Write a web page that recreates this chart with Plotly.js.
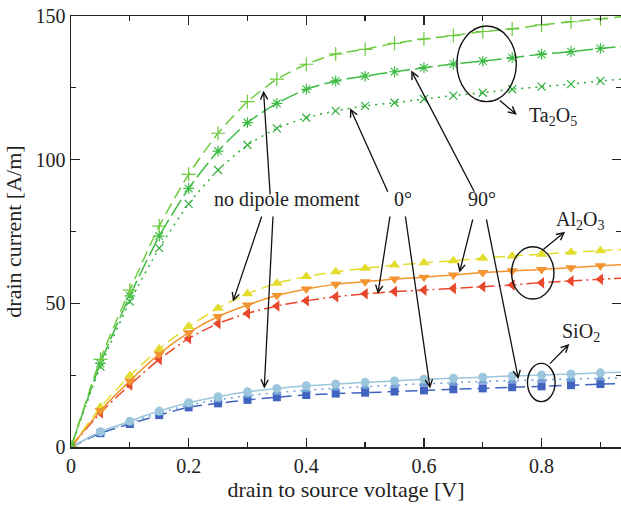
<!DOCTYPE html>
<html>
<head>
<meta charset="utf-8">
<script src="https://cdn.plot.ly/plotly-3.0.1.min.js"></script>
<style>html,body{margin:0;padding:0;background:#fff;}</style>
</head>
<body>
<div id="chart" style="width:621px;height:505px;"></div>
<script>
// drain-to-source voltage [V]
const vds = [0, 0.05, 0.1, 0.15, 0.2, 0.25, 0.3, 0.35, 0.4, 0.45, 0.5, 0.55, 0.6, 0.65, 0.7, 0.75, 0.8, 0.85, 0.9, 0.95];

// Ta2O5 drain current [A/m]
const ta2o5_noDipole = [0, 30.5, 54.6, 76.9, 94.9, 109.2, 120.2, 128.0, 133.2, 136.8, 138.4, 140.5, 142.0, 143.2, 144.6, 145.5, 146.9, 148.0, 149.0, 150.0];
const ta2o5_90deg    = [0, 29.1, 52.6, 73.4, 90.0, 103.0, 112.9, 119.6, 124.5, 127.4, 129.1, 130.6, 132.0, 133.3, 134.3, 135.5, 136.7, 137.6, 138.7, 139.6];
const ta2o5_0deg     = [0, 28.0, 50.6, 69.2, 84.6, 96.4, 105.1, 110.9, 114.6, 117.0, 118.7, 119.8, 121.1, 122.3, 123.3, 124.5, 125.4, 126.3, 127.4, 128.2];

// Al2O3 drain current [A/m]
const al2o3_noDipole = [0, 13.8, 24.8, 34.1, 41.9, 48.3, 53.3, 57.0, 59.3, 61.0, 62.2, 63.3, 64.1, 64.8, 65.7, 66.5, 67.1, 67.8, 68.3, 68.9];
const al2o3_90deg    = [0, 12.6, 23.0, 32.4, 39.8, 45.4, 49.4, 52.7, 55.0, 56.6, 57.5, 58.5, 59.1, 59.9, 60.7, 61.3, 61.8, 62.4, 63.1, 63.6];
const al2o3_0deg     = [0, 11.9, 21.6, 30.5, 37.8, 43.0, 46.5, 49.1, 50.9, 52.3, 53.3, 54.1, 54.6, 55.2, 55.8, 56.4, 57.2, 57.8, 58.4, 58.9];

// SiO2 drain current [A/m]
const sio2_noDipole = [0, 5.3, 9.0, 12.5, 15.4, 17.5, 19.2, 20.4, 21.3, 21.9, 22.5, 23.0, 23.6, 23.9, 24.3, 24.7, 25.1, 25.4, 25.8, 26.1];
const sio2_mid      = [0, 5.0, 8.5, 11.8, 14.6, 16.4, 17.9, 18.9, 19.8, 20.4, 21.0, 21.5, 22.0, 22.4, 22.8, 23.1, 23.4, 23.7, 23.9, 24.2];
const sio2_low      = [0, 4.8, 8.0, 11.1, 13.8, 15.2, 16.4, 17.3, 18.1, 18.6, 18.9, 19.3, 19.7, 20.1, 20.4, 20.8, 21.1, 21.5, 21.9, 22.2];

const tickVals = [0, 0.2, 0.4, 0.6, 0.8];
const yTickVals = [0, 50, 100, 150];

const DASH = '12px,6px', LONGDASH = '18px,5px', DASHDOT = '12px,4px,2px,4px', DOT = '2px,5px';

function tr(y, color, dash, symbol, size, thin) {
  const marker = {symbol: symbol, size: size, color: color};
  if (thin) marker.line = {color: color, width: 1.2};
  else marker.line = {width: 0};
  return {
    x: vds, y: y, type: 'scatter', mode: 'lines+markers',
    line: {color: color, width: 1.5, dash: dash, shape: 'spline', smoothing: 0.6},
    marker: marker, showlegend: false, cliponaxis: true
  };
}

const data = [
  tr(sio2_low, '#3f63bf', DASH, 'square', 8, false),
  tr(sio2_mid, '#6e9fd6', DOT, 'triangle-up', 9, false),
  tr(sio2_noDipole, '#9cc6dc', 'solid', 'circle', 9, false),
  tr(al2o3_0deg, '#e8472b', DASHDOT, 'triangle-left', 10, false),
  tr(al2o3_noDipole, '#e3dc2c', DASH, 'triangle-up', 10, false),
  tr(al2o3_90deg, '#f29430', 'solid', 'triangle-down', 10, false),
  tr(ta2o5_0deg, '#2fae3a', DOT, 'x-thin', 8, true),
  tr(ta2o5_90deg, '#3dbb45', LONGDASH, 'asterisk', 9, true),
  tr(ta2o5_noDipole, '#6cca3c', DASH, 'cross-thin', 10, true)
];

const font = {family: '"Liberation Serif", "Times New Roman", serif', size: 20, color: '#222'};

function arrow(xTip, yTip, xTail, yTail) {
  return {x: xTip, y: yTip, ax: xTail, ay: yTail, xref: 'x', yref: 'y', axref: 'x', ayref: 'y',
          text: '', showarrow: true, arrowhead: 5, arrowsize: 1.1, arrowwidth: 1.3, arrowcolor: '#111', standoff: 0, startstandoff: 0};
}
function label(x, y, text, xanchor) {
  return {x: x, y: y, xref: 'x', yref: 'y', text: text, showarrow: false, xanchor: xanchor || 'center', yanchor: 'middle', font: font};
}

const annotations = [
  label(0.3676, 86.2, 'no dipole moment'),
  label(0.5647, 86.2, '0°'),
  label(0.6989, 86.2, '90°'),
  label(0.775, 114.9, 'Ta<sub>2</sub>O<sub>5</sub>', 'left'),
  label(0.821, 78.7, 'Al<sub>2</sub>O<sub>3</sub>', 'left'),
  label(0.8314, 40.0, 'SiO<sub>2</sub>', 'left'),
  arrow(0.3273, 124.0, 0.3387, 87.4),
  arrow(0.2753, 50.6, 0.3251, 80.75),
  arrow(0.3285, 20.4, 0.3435, 80.75),
  arrow(0.4746, 117.9, 0.5397, 88.3),
  arrow(0.5217, 53.25, 0.5426, 80.75),
  arrow(0.6105, 20.4, 0.5681, 80.75),
  arrow(0.5783, 131.0, 0.6870, 88.3),
  arrow(0.6603, 60.7, 0.6836, 79.7),
  arrow(0.7606, 23.6, 0.7057, 79.7),
  arrow(0.7579, 115.6, 0.7266, 121.0),
  arrow(0.8400, 74.9, 0.8003, 68.3),
  arrow(0.8472, 35.85, 0.8116, 28.5)
];

const shapes = [
  {type: 'circle', xref: 'x', yref: 'y', x0: 0.656, x1: 0.757, y0: 120.2, y1: 146.5, line: {color: '#111', width: 1.4}},
  {type: 'circle', xref: 'x', yref: 'y', x0: 0.749, x1: 0.821, y0: 51.5, y1: 69.7, line: {color: '#111', width: 1.4}},
  {type: 'circle', xref: 'x', yref: 'y', x0: 0.776, x1: 0.823, y0: 15.8, y1: 29.1, line: {color: '#111', width: 1.4}}
];

const layout = {
  width: 621, height: 505,
  margin: {l: 71, r: 0, t: 16, b: 58, pad: 0},
  paper_bgcolor: '#fff', plot_bgcolor: '#fff',
  font: font,
  showlegend: false,
  xaxis: {
    range: [0, 0.935], tickvals: tickVals, ticktext: tickVals.map(v => v === 0 ? '0' : v.toFixed(1)),
    ticks: 'inside', ticklen: 9, tickwidth: 1.3, tickcolor: '#222',
    minor: {dtick: 0.1, tick0: 0, ticks: 'inside', ticklen: 5, tickwidth: 1.3, tickcolor: '#222', showgrid: false},
    showline: true, linecolor: '#222', linewidth: 1.5, mirror: 'ticks',
    showgrid: false, zeroline: false,
    tickfont: font,
    title: {text: 'drain to source voltage [V]', font: {family: font.family, size: 22, color: '#222'}, standoff: 6}
  },
  yaxis: {
    range: [0, 150], tickvals: yTickVals,
    ticks: 'inside', ticklen: 9, tickwidth: 1.3, tickcolor: '#222',
    minor: {dtick: 25, tick0: 0, ticks: 'inside', ticklen: 5, tickwidth: 1.3, tickcolor: '#222', showgrid: false},
    showline: true, linecolor: '#222', linewidth: 1.5, mirror: 'ticks',
    showgrid: false, zeroline: false,
    tickfont: font,
    title: {text: 'drain current [A/m]', font: {family: font.family, size: 22, color: '#222'}, standoff: 8}
  },
  annotations: annotations,
  shapes: shapes
};

Plotly.newPlot('chart', data, layout, {displayModeBar: false, staticPlot: true});
</script>
</body>
</html>
